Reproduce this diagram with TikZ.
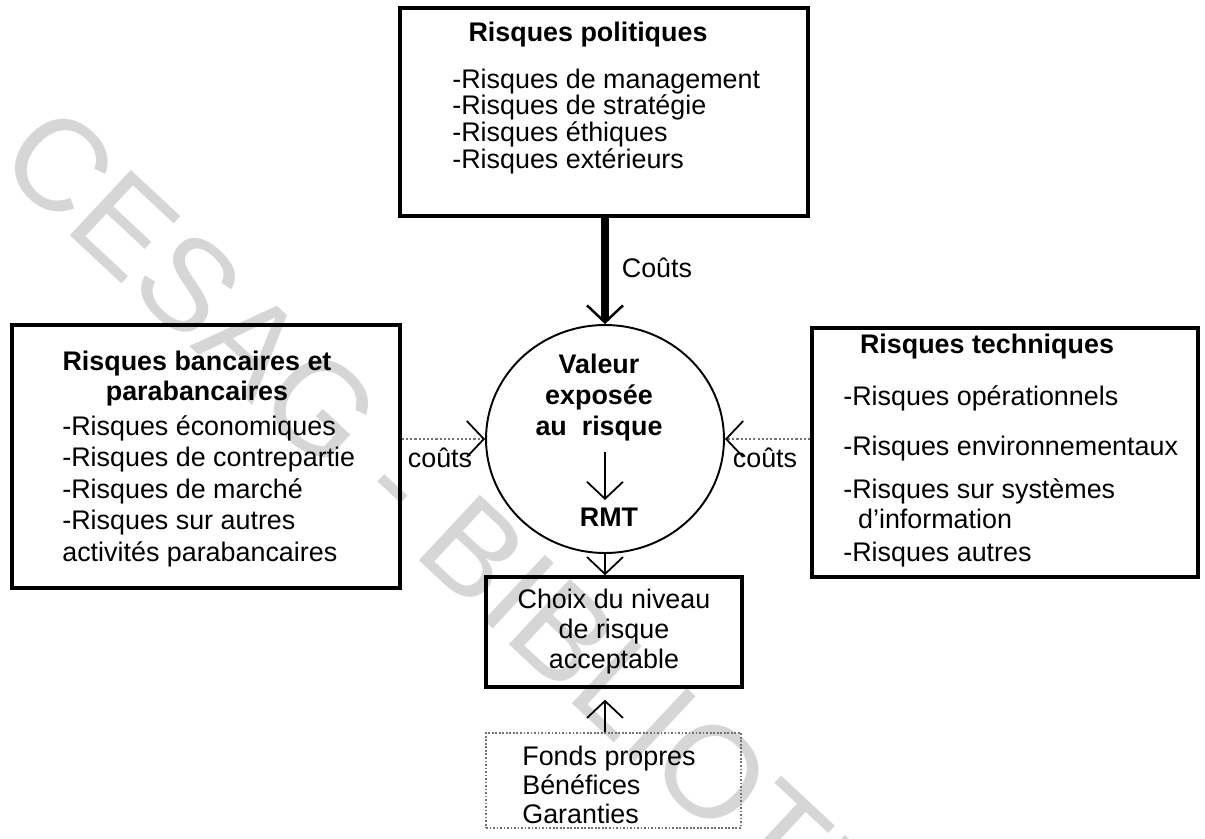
\documentclass[tikz,border=0pt]{standalone}
\usepackage{fontspec}
\setmainfont{Liberation Sans}
\usetikzlibrary{arrows.meta,shapes.geometric,fit}

% one unit = one pixel of a 1205 x 839 sheet, y running downwards;
% multi-line texts are placed by the baseline of their last line
\tikzset{
  x=0.02cm, y=-0.02cm,
  body/.style={font=\fontsize{15.3}{#1}\selectfont, inner sep=0},
  body/.default=15.3pt,
  head/.style={font=\bfseries\fontsize{15.3}{#1}\selectfont, inner sep=0},
  head/.default=17pt,
  riskbox/.style={draw, line width=2pt, inner sep=0},
  softbox/.style={draw=black!55, densely dotted, line width=1pt, inner sep=0},
  vtip/.style={-{Straight Barb[length=0.34cm, width=0.72cm, line width=#1 0, color=black]}},
  vtip/.default=1pt,
  feed/.style={draw=black!55, line width=1.1pt, dash pattern=on 1.2pt off 1.2pt},
  thin arrow/.style={line width=1pt, vtip},
}

\begin{document}
\begin{tikzpicture}
\useasboundingbox (0,0) rectangle (1205,839);
\fill[white] (0,0) rectangle (1205,839);

% library stamp across the sheet
\node[rotate=-43, anchor=base west, inner sep=0, text=black!16,
      font=\fontsize{74}{74}\selectfont] (stamp) at (-6,164) {CESAG - BIBLIOTHEQUE};

% frames
\node[riskbox, fit={(400,8) (808,216)}] (pol) {};
\node[riskbox, fit={(12,325) (400,588)}] (ban) {};
\node[riskbox, fit={(812,328) (1198,577)}] (tec) {};
\node[riskbox, fit={(486,577) (742,687)}] (cho) {};
\node[softbox, fit={(486,733) (741,828)}] (fon) {};
\node[draw, ellipse, line width=1.1pt, minimum width=4.76cm, minimum height=4.56cm,
      inner sep=0] (val) at (605,439) {};

% political risks
\node[head, anchor=base] (polT) at (588,41) {Risques politiques};
\node[body=15.1pt, anchor=base west, align=left] (polL) at (452,168)
  {-Risques de management\\-Risques de stratégie\\-Risques éthiques\\-Risques extérieurs};

% banking risks
\node[head=17pt, anchor=base, align=center] (banT) at (197,400)
  {Risques bancaires et\\parabancaires};
\node[body=17.9pt, anchor=base west, align=left] (banL) at (62,561)
  {-Risques économiques\\-Risques de contrepartie\\-Risques de marché\\-Risques sur autres\\activités parabancaires};

% technical risks
\node[head, anchor=base] (tecT) at (987,353) {Risques techniques};
\node[body=17pt, anchor=base west, align=left] (tecL) at (843,561)
  {-Risques opérationnels\\[11.3pt]-Risques environnementaux\\[7.4pt]-Risques sur systèmes\\\hspace*{0.55em}d'information\\[1.7pt]-Risques autres};

% value at risk
\node[head=17.6pt, anchor=base, align=center] (valT) at (599,435)
  {Valeur\\exposée\\au\ \ risque};
\node[head, anchor=base] (rmt) at (609,526) {RMT};
\draw[thin arrow] (605,452) -- (605,500);

% acceptable risk level
\node[body=17pt, anchor=base, align=center] (choT) at (614,668)
  {Choix du niveau\\de risque\\acceptable};

% resources
\node[body=16.4pt, anchor=base west, align=left] (fonT) at (522,823)
  {Fonds propres\\Bénéfices\\Garanties};

% cost flows
\draw[line width=4pt, vtip=1.4pt] (pol.south -| val.north) -- (val.north);
\node[body, anchor=base] (c1) at (657,277) {Coûts};

\draw[feed, vtip] (ban.east |- val.west) -- (val.west);
\node[body, anchor=base] (c2) at (440,467) {coûts};

\draw[feed, vtip] (tec.west |- val.east) -- (val.east);
\node[body, anchor=base] (c3) at (765,467) {coûts};

\draw[thin arrow] (val.south) -- (val.south |- cho.north);
\draw[thin arrow, shorten >=0.22cm] (fon.north -| val.south) -- (val.south |- cho.south);
\end{tikzpicture}
\end{document}
